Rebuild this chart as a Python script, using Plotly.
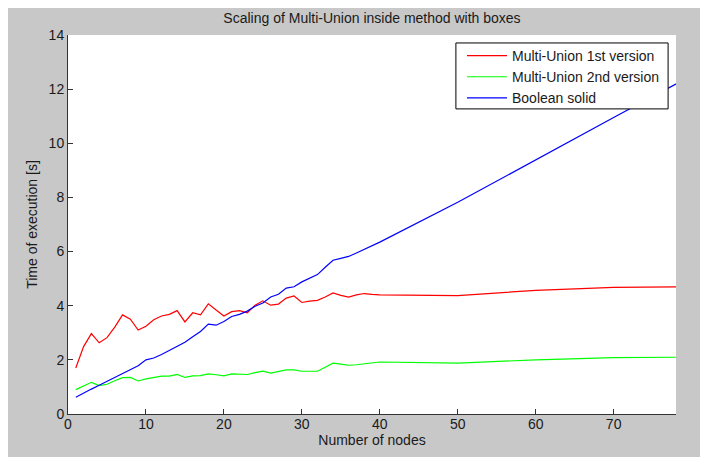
import plotly.graph_objects as go

# number of nodes
nodes = list(range(1, 41)) + [50, 60, 70, 80]

# time of execution [s]
multi_union_v1 = [1.70, 2.49, 2.97, 2.63, 2.82, 3.21, 3.66, 3.50, 3.10, 3.24,
                  3.48, 3.62, 3.68, 3.82, 3.40, 3.74, 3.66, 4.07, 3.84, 3.62,
                  3.78, 3.82, 3.74, 4.02, 4.18, 4.02, 4.06, 4.28, 4.36, 4.12,
                  4.17, 4.20, 4.32, 4.47, 4.38, 4.32, 4.40, 4.45, 4.42, 4.40,
                  4.37, 4.57, 4.68, 4.70]
multi_union_v2 = [0.90, 1.04, 1.17, 1.05, 1.10, 1.23, 1.34, 1.35, 1.22, 1.30,
                  1.36, 1.40, 1.40, 1.46, 1.35, 1.41, 1.42, 1.48, 1.45, 1.41,
                  1.48, 1.48, 1.46, 1.53, 1.58, 1.51, 1.56, 1.63, 1.63, 1.58,
                  1.58, 1.58, 1.73, 1.88, 1.84, 1.80, 1.82, 1.86, 1.90, 1.92,
                  1.88, 2.00, 2.08, 2.10]
boolean_solid = [0.62, 0.78, 0.92, 1.06, 1.20, 1.35, 1.50, 1.64, 1.78, 2.00,
                 2.07, 2.20, 2.35, 2.49, 2.65, 2.85, 3.05, 3.32, 3.28, 3.42,
                 3.60, 3.68, 3.80, 3.98, 4.10, 4.32, 4.42, 4.65, 4.70, 4.88,
                 5.00, 5.15, 5.42, 5.68, 5.75, 5.82, 5.95, 6.08, 6.22, 6.35,
                 7.82, 9.40, 10.95, 12.50]

series = [
    ('Multi-Union 1st version', multi_union_v1, '#ff0000'),
    ('Multi-Union 2nd version', multi_union_v2, '#00ff00'),
    ('Boolean solid', boolean_solid, '#0000ff'),
]

font = 'Liberation Sans, Arial, sans-serif'
gray = '#c8c8c8'
txt = '#1a1a1a'

fig = go.Figure()
for name, vals, col in series:
    fig.add_trace(go.Scatter(x=nodes, y=vals, mode='lines', name=name,
                             line=dict(color=col, width=1.2)))

axis_common = dict(showgrid=False, zeroline=False, showline=True, linecolor='#333333',
                   linewidth=1, ticks='inside', ticklen=5, tickcolor='#333333',
                   mirror=False, automargin=False,
                   tickfont=dict(size=14, color=txt, family=font))

fig.update_xaxes(range=[0, 78], dtick=10, ticklabelstandoff=-3,
                 title=dict(text='Number of nodes', standoff=0,
                            font=dict(size=14, color=txt, family=font)), **axis_common)
fig.update_yaxes(range=[0, 14], dtick=2,
                 title=dict(text='Time of execution [s]', standoff=7,
                            font=dict(size=14, color=txt, family=font)), **axis_common)

# legend frame (MATLAB style box)
fig.add_shape(type='rect', xref='paper', yref='paper', x0=0.638, x1=0.987, y0=0.805, y1=0.979,
              fillcolor='white', line=dict(color='#000000', width=1), layer='above')

fig.update_layout(
    width=700, height=449,
    margin=dict(l=60, r=32, t=27, b=43, autoexpand=False),
    paper_bgcolor=gray, plot_bgcolor='white',
    font=dict(family=font, size=14, color=txt),
    title=dict(text='Scaling of Multi-Union inside method with boxes', x=0.5, xref='paper',
               y=1 - 10 / 449, yanchor='middle', font=dict(size=14, family=font, color=txt)),
    legend=dict(x=0.648, xanchor='left', y=0.987, yanchor='top', bgcolor='rgba(0,0,0,0)',
                borderwidth=0, font=dict(size=14, family=font), itemwidth=40,
                tracegroupgap=0),
    showlegend=True,
)

fig.write_html("out.html")
